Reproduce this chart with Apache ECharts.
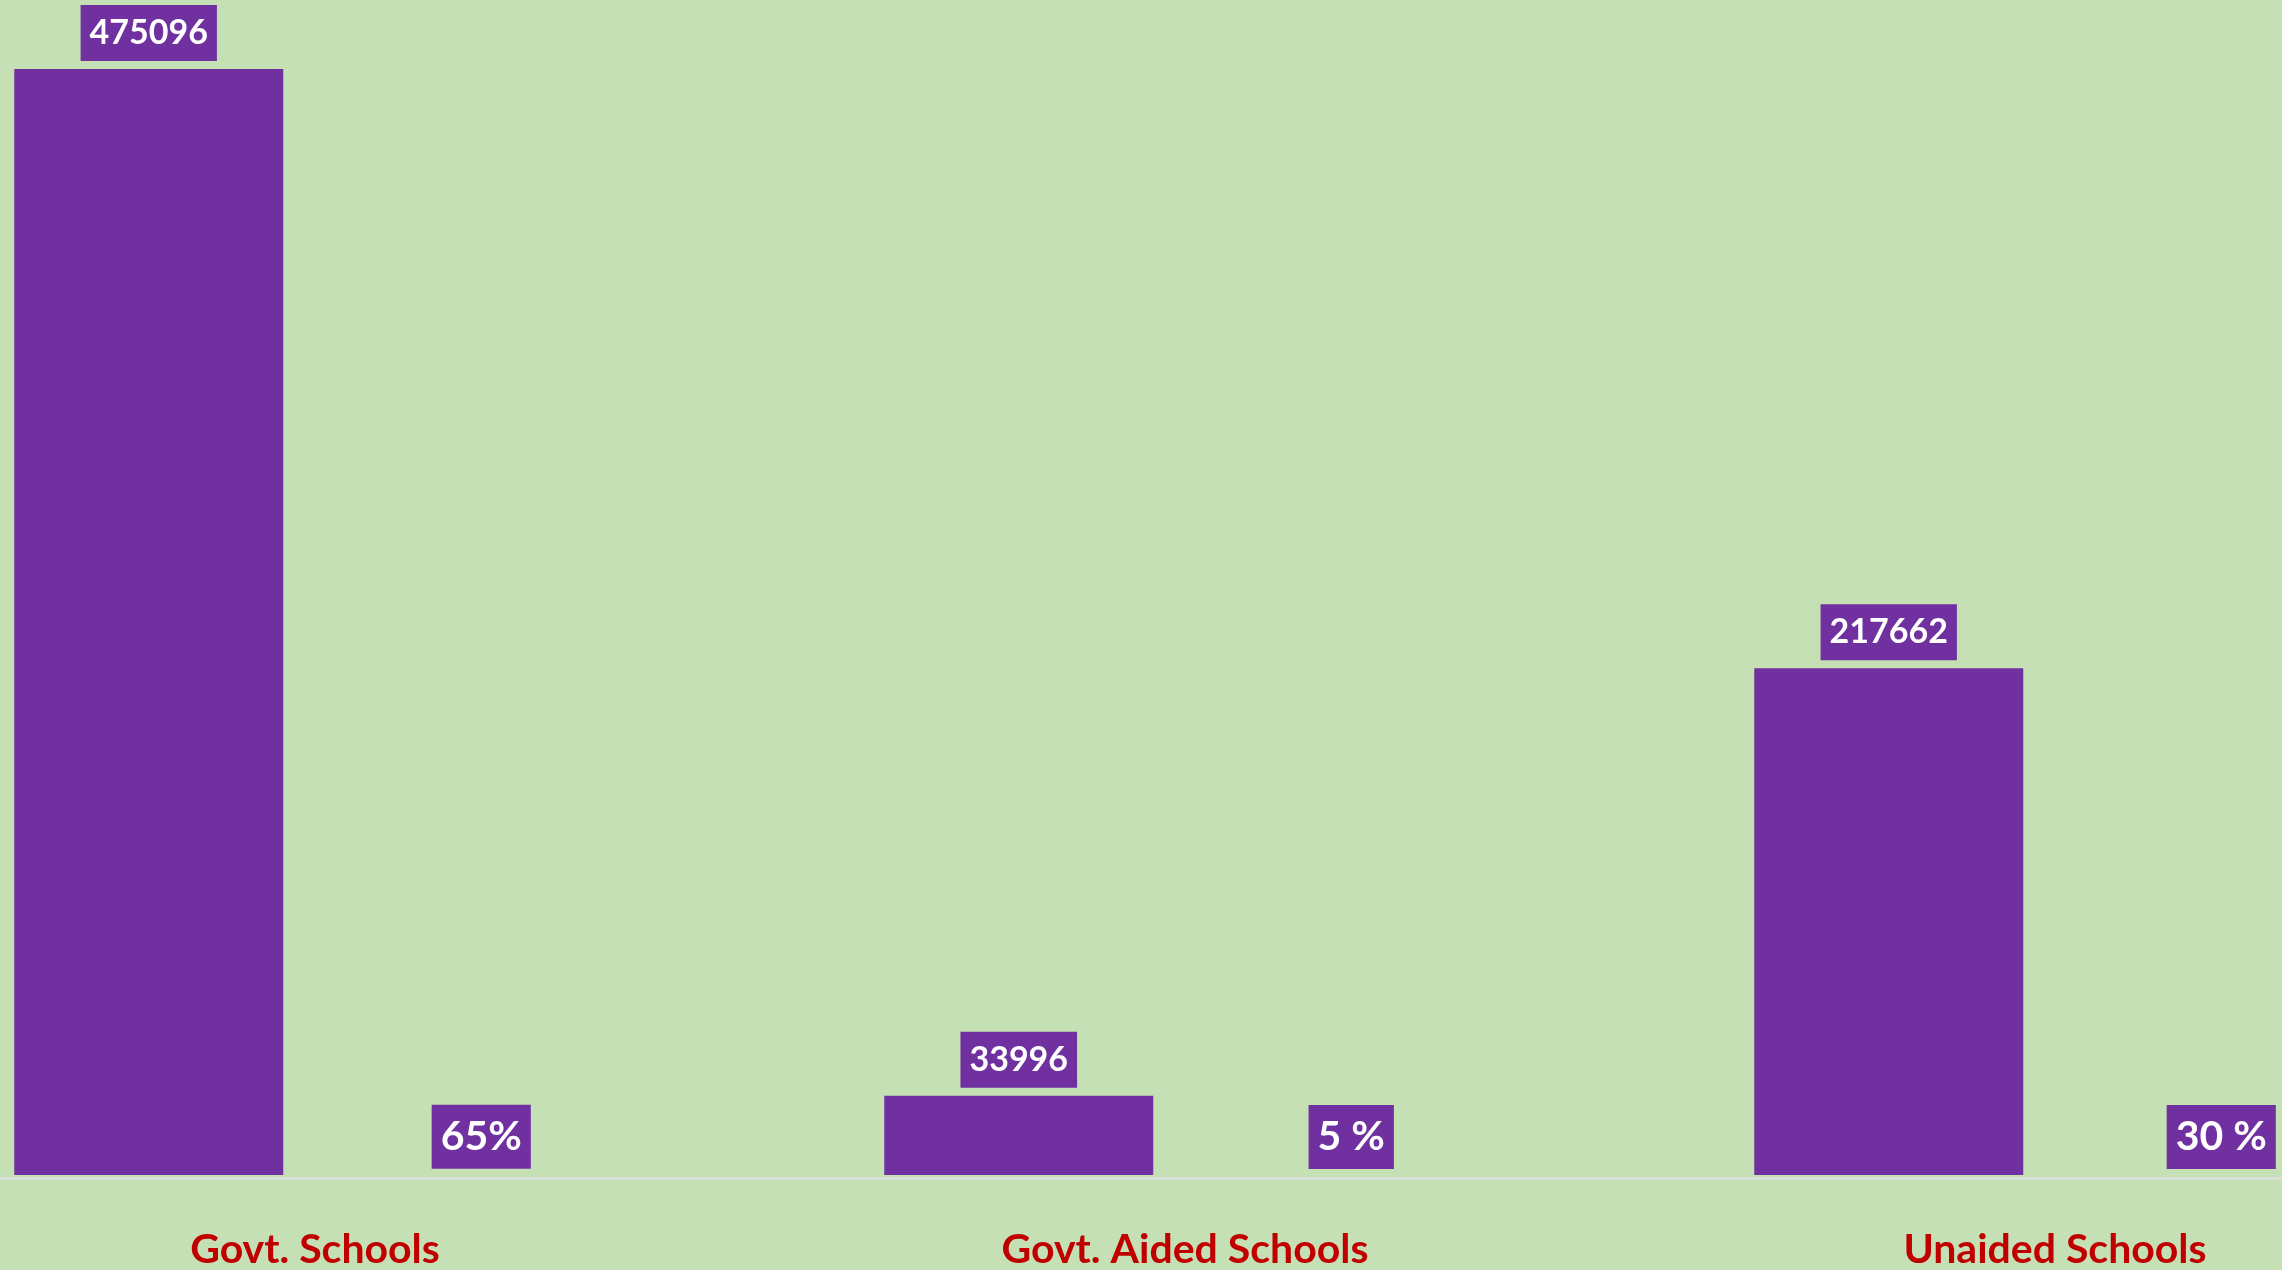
<!DOCTYPE html>
<html>
<head>
<meta charset="utf-8">
<style>
  html, body { margin: 0; padding: 0; background: #C5E0B4; }
  #chart { width: 2282px; height: 1270px; }
</style>
<script src="https://cdn.jsdelivr.net/npm/echarts@6/dist/echarts.min.js"></script>
</head>
<body>
<div id="chart"></div>
<script>
const categories = ['Govt. Schools', 'Govt. Aided Schools', 'Unaided Schools'];
const schoolCounts = [475096, 33996, 217662];
const sharePct = [65, 5, 30];
const shareLabels = ['65%', '5 %', '30 %'];

const chart = echarts.init(document.getElementById('chart'), null, { renderer: 'canvas' });
const FONT = 'Lato, "Open Sans", sans-serif';

chart.setOption({
  backgroundColor: '#C5E0B4',
  animation: false,
  grid: [
    { left: 315, right: 227, top: 69, bottom: 93, containLabel: false },
    { left: 0, right: 0, top: 69, bottom: 92, containLabel: false }
  ],
  xAxis: [
    {
      type: 'category',
      gridIndex: 0,
      data: categories,
      boundaryGap: false,
      axisLine: { show: false },
      axisTick: { show: false },
      axisLabel: {
        color: '#C00000',
        fontFamily: FONT,
        fontWeight: 'bold',
        fontSize: 41,
        margin: 54,
        interval: 0
      }
    },
    {
      type: 'category',
      gridIndex: 1,
      data: categories,
      axisLine: { show: true, lineStyle: { color: '#DCDFDC', width: 2.5 } },
      axisTick: { show: false },
      axisLabel: { show: false }
    }
  ],
  yAxis: [
    {
      type: 'value',
      gridIndex: 0,
      min: 0,
      max: function (v) { return v.max; },
      show: false,
      splitLine: { show: false }
    },
    {
      type: 'value',
      gridIndex: 1,
      show: false,
      splitLine: { show: false }
    }
  ],
  series: [
    {
      type: 'bar',
      xAxisIndex: 0,
      yAxisIndex: 0,
      data: schoolCounts,
      barWidth: 269,
      barGap: '23.6%',
      z: 3,
      itemStyle: { color: '#7030A0' },
      label: {
        show: true,
        position: 'top',
        distance: 8,
        color: '#FFFFFF',
        fontFamily: FONT,
        fontWeight: 'bold',
        fontSize: 34,
        lineHeight: 40,
        backgroundColor: '#7030A0',
        padding: [8, 9, 8, 9]
      }
    },
    {
      type: 'bar',
      xAxisIndex: 0,
      yAxisIndex: 0,
      data: sharePct,
      barWidth: 269,
      z: 3,
      itemStyle: { color: 'rgba(0,0,0,0)' },
      label: {
        show: true,
        position: 'top',
        distance: 6,
        formatter: function (p) { return shareLabels[p.dataIndex]; },
        color: '#FFFFFF',
        fontFamily: FONT,
        fontWeight: 'bold',
        fontSize: 41,
        lineHeight: 50,
        backgroundColor: '#7030A0',
        padding: [7, 9, 7, 9]
      }
    }
  ]
});
</script>
</body>
</html>
